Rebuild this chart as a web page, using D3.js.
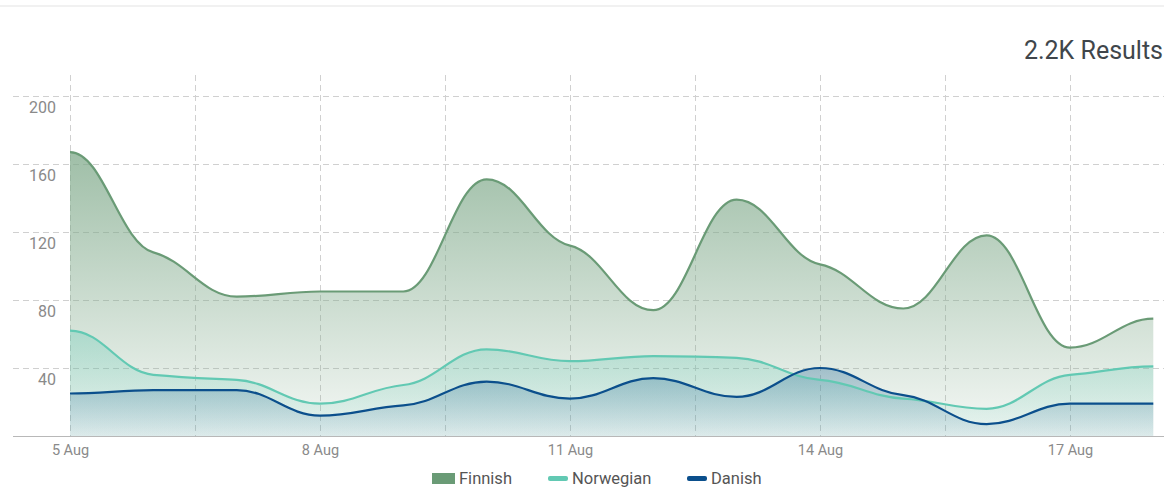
<!DOCTYPE html>
<html lang="en">
  <head>
    <meta charset="utf-8" />
    <title>Results</title>
    <script src="https://cdn.jsdelivr.net/npm/d3@7"></script>
    <style>
      body { margin: 0; background: #fff; font-family: Roboto, "Open Sans", sans-serif; }
    </style>
  </head>
  <body>
    <script>
      const WIDTH = 1164;
      const HEIGHT = 488;

      // Data, one value per day
      const days = ["2023-08-05", "2023-08-06", "2023-08-07", "2023-08-08", "2023-08-09", "2023-08-10", "2023-08-11",
                    "2023-08-12", "2023-08-13", "2023-08-14", "2023-08-15", "2023-08-16", "2023-08-17", "2023-08-18"];
      const finnish   = [167, 108, 82, 85, 85, 151, 112, 74, 139, 101, 75, 118, 52, 69];
      const norwegian = [62, 36, 33, 19, 30, 51, 44, 47, 46, 33, 22, 16, 36, 41];
      const danish    = [25, 27, 27, 12, 18, 32, 22, 34, 23, 40, 24, 7, 19, 19];
      const seriesNames = ["Finnish", "Norwegian", "Danish"];
      const yTicks = [40, 80, 120, 160, 200];
      const totalLabel = "2.2K Results";

      const colors = { Finnish: "#6a9b76", Norwegian: "#62c9b3", Danish: "#0b4f8c" };
      const fills = {
        Finnish:   ["#7fa98a", 0.75, 0.08],
        Norwegian: ["#62c9b3", 0.35, 0.06],
        Danish:    ["#2c6f9a", 0.35, 0.08],
      };

      // Smooth curve with soft tangents: flat at the ends and at local
      // extremes, shallow elsewhere, so the in-between points form ledges
      const TANGENT = 0.3;
      const HANDLE = 0.4;
      function SoftCurve(context) { this._context = context; }
      SoftCurve.prototype = {
        areaStart: function () { this._line = 0; },
        areaEnd: function () { this._line = NaN; },
        lineStart: function () { this._x = []; this._y = []; },
        point: function (x, y) { this._x.push(+x); this._y.push(+y); },
        lineEnd: function () {
          const xs = this._x, ys = this._y, n = xs.length, c = this._context;
          const m = [];
          for (let i = 0; i < n; i++) {
            m[i] = 0;
            if (i > 0 && i < n - 1) {
              const a = ys[i] - ys[i - 1], b = ys[i + 1] - ys[i];
              if (a * b > 0) m[i] = TANGENT * (ys[i + 1] - ys[i - 1]) / (xs[i + 1] - xs[i - 1]);
            }
          }
          if (n) {
            this._line ? c.lineTo(xs[0], ys[0]) : c.moveTo(xs[0], ys[0]);
            for (let i = 1; i < n; i++) {
              const h = (xs[i] - xs[i - 1]) * HANDLE;
              c.bezierCurveTo(xs[i - 1] + h, ys[i - 1] + m[i - 1] * h,
                              xs[i] - h, ys[i] - m[i] * h, xs[i], ys[i]);
            }
          }
          if (this._line || (this._line !== 0 && n === 1)) c.closePath();
          this._line = 1 - this._line;
        },
      };
      const curveSoft = (context) => new SoftCurve(context);

      const parse = d3.timeParse("%Y-%m-%d");
      const dates = days.map(parse);
      const series = [
        { name: "Finnish", values: finnish },
        { name: "Norwegian", values: norwegian },
        { name: "Danish", values: danish },
      ];

      const x = d3.scaleTime()
        .domain([dates[0], d3.timeDay.offset(dates[0], 15)])
        .range([70, 70 + 15 * 83.33]);
      const y = d3.scaleLinear().domain([0, 200]).range([436, 96]);

      const svg = d3.select("body").append("svg")
        .attr("width", WIDTH)
        .attr("height", HEIGHT);

      // thin rule at the very top
      svg.append("line")
        .attr("x1", 0).attr("x2", WIDTH)
        .attr("y1", 6).attr("y2", 6)
        .attr("stroke", "#ececec").attr("stroke-width", 1.5);

      svg.append("text")
        .attr("x", 1163).attr("y", 59)
        .attr("text-anchor", "end")
        .attr("font-size", 25)
        .attr("fill", "#40464b")
        .text(totalLabel);

      // gradients for the areas
      const defs = svg.append("defs");
      seriesNames.forEach(function (name) {
        const g = defs.append("linearGradient")
          .attr("id", "grad-" + name)
          .attr("x1", 0).attr("x2", 0).attr("y1", 0).attr("y2", 1);
        g.append("stop").attr("offset", "0%").attr("stop-color", fills[name][0]).attr("stop-opacity", fills[name][1]);
        g.append("stop").attr("offset", "100%").attr("stop-color", fills[name][0]).attr("stop-opacity", fills[name][2]);
      });

      // horizontal grid
      svg.append("g").selectAll("line")
        .data(yTicks)
        .enter().append("line")
        .attr("x1", 13).attr("x2", WIDTH)
        .attr("y1", (d) => y(d) + 0.5).attr("y2", (d) => y(d) + 0.5)
        .attr("stroke", "#d0d0d0")
        .attr("stroke-dasharray", "6,4");

      // vertical grid every 1.5 days
      const gridDates = d3.range(0, 9).map((k) => new Date(dates[0].getTime() + k * 1.5 * 864e5));
      svg.append("g").selectAll("line")
        .data(gridDates)
        .enter().append("line")
        .attr("x1", (d) => Math.round(x(d)) + 0.5).attr("x2", (d) => Math.round(x(d)) + 0.5)
        .attr("y1", 75).attr("y2", 436)
        .attr("stroke", "#d0d0d0")
        .attr("stroke-dasharray", "6,4");

      // y tick labels sit just under their grid line
      svg.append("g").selectAll("text")
        .data(yTicks)
        .enter().append("text")
        .attr("x", 56)
        .attr("y", (d) => y(d) + 17)
        .attr("text-anchor", "end")
        .attr("font-size", 16)
        .attr("fill", "#8a8a8a")
        .text((d) => d);

      const area = d3.area()
        .x((d, i) => x(dates[i]))
        .y0(y(0))
        .y1((d) => y(d))
        .curve(curveSoft);
      const line = d3.line()
        .x((d, i) => x(dates[i]))
        .y((d) => y(d))
        .curve(curveSoft);

      series.forEach(function (s) {
        svg.append("path")
          .attr("d", area(s.values))
          .attr("fill", "url(#grad-" + s.name + ")");
      });
      series.forEach(function (s) {
        svg.append("path")
          .attr("d", line(s.values))
          .attr("fill", "none")
          .attr("stroke", colors[s.name])
          .attr("stroke-width", 2.2);
      });

      // baseline
      svg.append("line")
        .attr("x1", 13).attr("x2", WIDTH)
        .attr("y1", 436.5).attr("y2", 436.5)
        .attr("stroke", "#b8b8b8").attr("stroke-width", 1);

      // x axis labels every 3 days
      const xAxis = d3.axisBottom(x)
        .tickValues(dates.filter((d, i) => i % 3 === 0))
        .tickFormat(d3.timeFormat("%-d %b"))
        .tickSize(0)
        .tickPadding(9);
      const xg = svg.append("g").attr("transform", "translate(0,436)").call(xAxis);
      xg.select(".domain").remove();
      xg.selectAll("text")
        .attr("font-family", "Roboto, sans-serif")
        .attr("font-size", 14.5)
        .attr("fill", "#8a8a8a");

      // legend
      const legendX = [432, 548, 687];
      const legend = svg.append("g").selectAll("g")
        .data(seriesNames)
        .enter().append("g")
        .attr("transform", (d, i) => "translate(" + legendX[i] + ",478)");
      legend.append("rect")
        .attr("x", 0)
        .attr("y", (d, i) => (i === 0 ? -5 : -2))
        .attr("width", (d, i) => (i === 0 ? 23 : 20))
        .attr("height", (d, i) => (i === 0 ? 11 : 5))
        .attr("rx", (d, i) => (i === 0 ? 0 : 2))
        .attr("fill", (d) => colors[d]);
      legend.append("text")
        .attr("x", (d, i) => (i === 0 ? 27 : 24))
        .attr("y", 6)
        .attr("font-size", 16.5)
        .attr("fill", "#555")
        .text((d) => d);
    </script>
  </body>
</html>
